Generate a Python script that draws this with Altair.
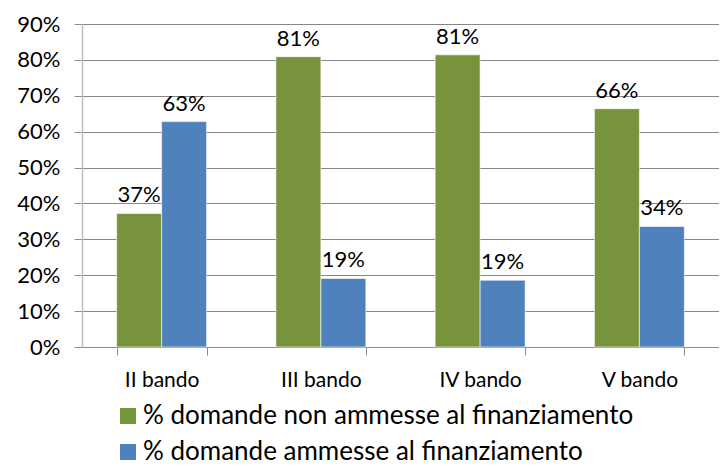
import altair as alt
import pandas as pd

bandi = ["II bando", "III bando", "IV bando", "V bando"]
series = ["% domande non ammesse al finanziamento", "% domande ammesse al finanziamento"]
non_ammesse = [0.372, 0.809, 0.814, 0.664]
ammesse = [0.628, 0.191, 0.186, 0.336]
y_ticks = [0.0, 0.1, 0.2, 0.3, 0.4, 0.5, 0.6, 0.7, 0.8, 0.9]
colors = ["#77933c", "#4f81bd"]

rows = []
for i, b in enumerate(bandi):
    rows.append({"bando": b, "serie": series[0], "valore": non_ammesse[i]})
    rows.append({"bando": b, "serie": series[1], "valore": ammesse[i]})
df = pd.DataFrame(rows)

FONT = "Lato"

x = alt.X("bando:N", sort=bandi, title=None,
          scale=alt.Scale(paddingInner=0.435, paddingOuter=0.2175),
          axis=alt.Axis(labelAngle=0, labelFontSize=21, labelFont=FONT, labelColor="#000000",
                        tickBand="extent", tickSize=8, tickColor="#8c8c8c",
                        domainColor="#8c8c8c", labelPadding=14, grid=False))
xo = alt.XOffset("serie:N", sort=series)
y = alt.Y("valore:Q", title=None,
          scale=alt.Scale(domain=[0, 0.9], nice=False),
          axis=alt.Axis(format=".0%", values=y_ticks, labelOverlap=False,
                        labelFontSize=22, labelFont=FONT, labelColor="#000000",
                        tickSize=8, tickColor="#8c8c8c", labelPadding=14,
                        domainColor="#bfbfbf", domainWidth=1.5,
                        gridColor="#868686", gridWidth=1))

base = alt.Chart(df).encode(x=x, xOffset=xo, y=y)

bars = base.mark_bar(stroke="#ffffff", strokeWidth=0.6).encode(
    color=alt.Color("serie:N", sort=series,
                    scale=alt.Scale(domain=series, range=colors),
                    legend=alt.Legend(title=None, orient="none", legendX=33, legendY=379,
                                      padding=0, direction="vertical", symbolType="square",
                                      symbolSize=256, symbolStrokeWidth=0,
                                      labelFontSize=26, labelFont=FONT, labelColor="#000000",
                                      rowPadding=10, labelOffset=2, labelLimit=700)),
)

labels = base.mark_text(baseline="bottom", dy=-6, fontSize=22, font=FONT, color="#000000").encode(
    text=alt.Text("valore:Q", format=".0%"),
)

chart = (bars + labels).properties(
    width=637, height=323,
    autosize=alt.AutoSizeParams(type="none"),
    padding={"left": 74, "top": 16, "right": 0, "bottom": 119},
).configure_view(stroke=None).configure(background="#ffffff")

chart.save("out.html", embed_options={"renderer": "svg", "actions": False})
